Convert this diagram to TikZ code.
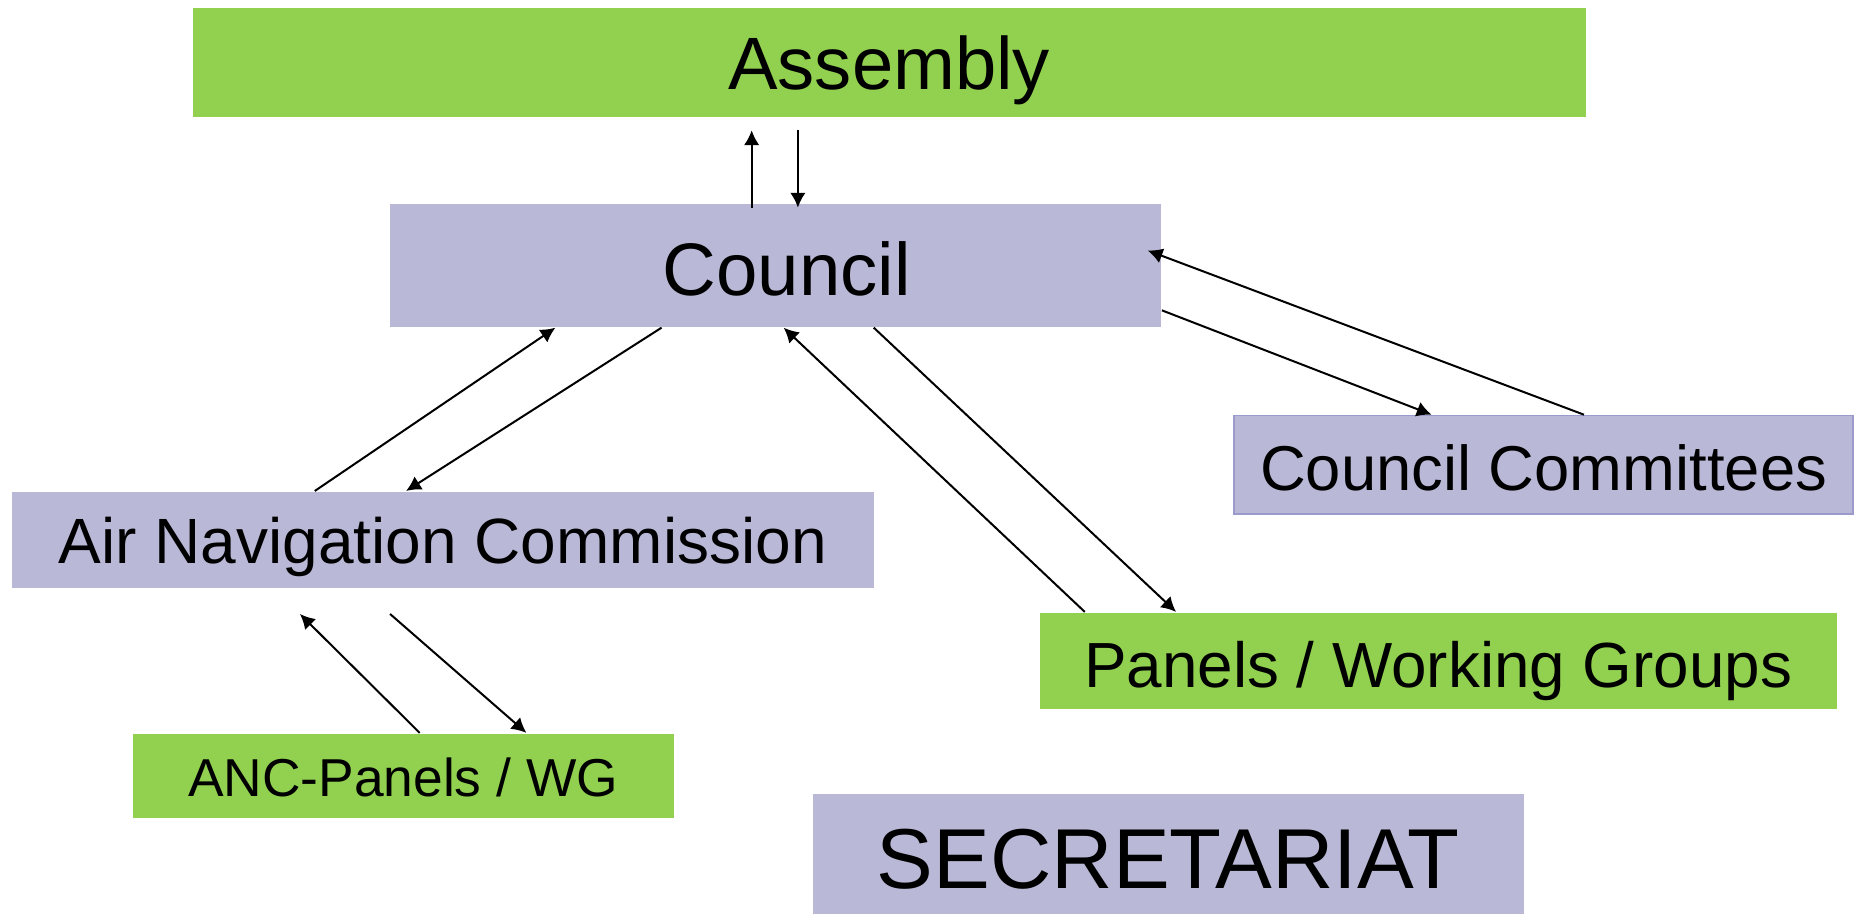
\documentclass[tikz,border=0pt]{standalone}
\usepackage{fontspec}
\setmainfont{Liberation Sans}
\usetikzlibrary{arrows.meta,calc}
\definecolor{bodygreen}{HTML}{92D050}
\definecolor{bodyblue}{HTML}{B9B9D7}
\definecolor{bodyedge}{HTML}{9A9ACC}

\begin{document}
\begin{tikzpicture}[x=0.01cm,y=-0.01cm, every node/.style={rectangle,inner sep=0pt,text=black,text depth=0pt}, gbox/.style={fill=bodygreen}, pbox/.style={fill=bodyblue}, >={Latex[length=1.25mm,width=1.3mm]}, line width=0.48pt]
				\useasboundingbox (0,0) rectangle (1568,772);
				\node (assembly) [gbox,minimum width=11.74cm,minimum height=0.92cm,text height=12.74pt,font=\fontsize{17.8}{20}\selectfont] at (750,53) {Assembly};
				\node (council) [pbox,minimum width=6.5cm,minimum height=1.035cm,text height=14.5pt,font=\fontsize{17.85}{20}\selectfont] at (654,223.75) {\hspace*{0.19cm}Council};
				\node (committees) [pbox,draw=bodyedge,line width=0.4pt,minimum width=5.22cm,minimum height=0.83cm,text height=12.3pt,font=\fontsize{15.2}{18}\selectfont] at (1302,392) {Council Committees};
				\node (anc) [pbox,minimum width=7.27cm,minimum height=0.81cm,text height=11.3pt,font=\fontsize{15.35}{18}\selectfont] at (373.5,455.5) {Air Navigation Commission};
				\node (panels) [gbox,minimum width=6.72cm,minimum height=0.81cm,text height=12.95pt,font=\fontsize{15.3}{18}\selectfont] at (1213,557.5) {Panels / Working Groups};
				\node (ancpanels) [gbox,minimum width=4.56cm,minimum height=0.71cm,text height=10pt,font=\fontsize{12.8}{15}\selectfont] at (340,654.5) {ANC-Panels / WG};
				\node (secretariat) [pbox,minimum width=5.99cm,minimum height=1.01cm,text height=16.6pt,font=\fontsize{20.4}{24}\selectfont] at (985.5,720) {SECRETARIAT};
				% assembly and council
				\draw [->] ($(council.north)+(-20,4)$) to ($(assembly.south)+(-116,10)$);
				\draw [->] ($(assembly.south)+(-77,10)$) to ($(council.north)+(19,4)$);
				% council committees
				\draw [->] ($(committees.north)+(34,0)$) to ($(council.east)+(-12,-12.5)$);
				\draw [->] ($(council.east)+(0,38)$) to ($(committees.north)+(-94.5,0)$);
				% air navigation commission
				\draw [->] ($(anc.north)+(-108,0)$) to ($(council.south)+(-185.5,0)$);
				\draw [->] ($(council.south)+(-96,0)$) to ($(anc.north)+(-31,0)$);
				% panels / working groups
				\draw [->] ($(panels.north)+(-298,0)$) to ($(council.south)+(7,0)$);
				\draw [->] ($(council.south)+(83,0)$) to ($(panels.north)+(-221,0)$);
				% anc panels
				\draw [->] ($(ancpanels.north)+(14,0)$) to ($(anc.south)+(-120.5,21)$);
				\draw [->] ($(anc.south)+(-44.5,21)$) to ($(ancpanels.north)+(104,0)$);
			\end{tikzpicture}
\end{document}
